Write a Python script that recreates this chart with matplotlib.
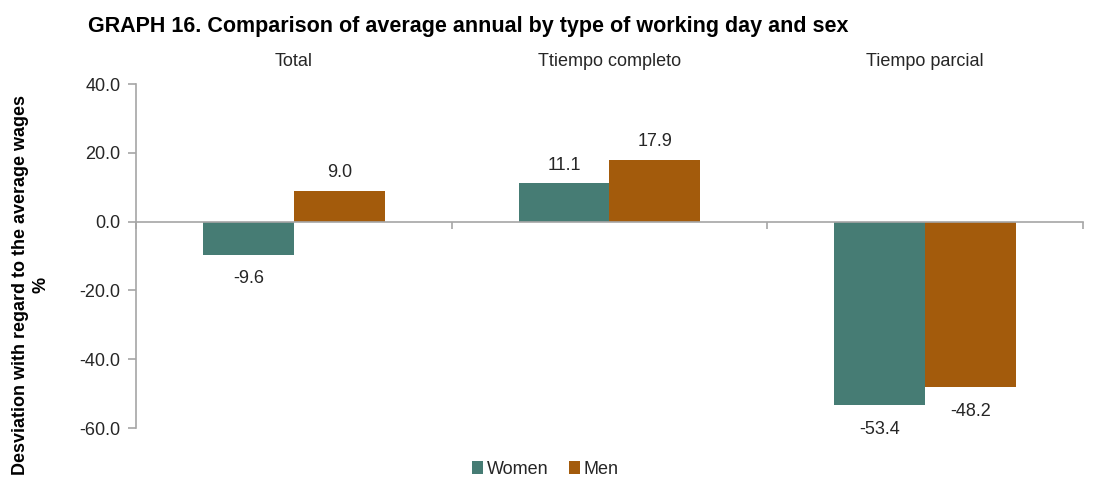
import matplotlib
matplotlib.use("Agg")
import matplotlib.pyplot as plt
import numpy as np

plt.rcParams['font.family'] = ['Liberation Sans', 'DejaVu Sans']

categories = ["Total", "Ttiempo completo", "Tiempo parcial"]
women = [-9.6, 11.1, -53.4]
men = [9.0, 17.9, -48.2]
series_names = ["Women", "Men"]
yticks = [40.0, 20.0, 0.0, -20.0, -40.0, -60.0]

c_women = "#467C74"
c_men = "#A35B0C"
grid_col = "#A6A6A6"
txt_col = "#262626"
fs = 13

fig = plt.figure(figsize=(10.95, 4.93), dpi=100)
ax = fig.add_axes([0.1242, 0.1318, 0.8648, 0.6978])

x = np.arange(len(categories))
w = 0.288
b1 = ax.bar(x - w / 2, women, w, color=c_women, label=series_names[0])
b2 = ax.bar(x + w / 2, men, w, color=c_men, label=series_names[1])

ax.set_xlim(-0.5, len(categories) - 0.5)
ax.set_ylim(-60, 40)
ax.set_yticks(yticks)
ax.set_yticklabels([f"{v:.1f}" for v in yticks], fontsize=fs, color=txt_col)

# zero line acts as the category axis
ax.spines['bottom'].set_position(('data', 0))
for s in ['top', 'right']:
    ax.spines[s].set_visible(False)
for s in ['left', 'bottom']:
    ax.spines[s].set_color(grid_col)
    ax.spines[s].set_linewidth(1.2)
ax.set_xticks(np.arange(-0.5, len(categories), 1.0))
ax.set_xticklabels([])
ax.tick_params(axis='x', direction='out', length=5, color=grid_col, width=1.2)
ax.tick_params(axis='y', direction='out', length=6, color=grid_col, width=1.2, pad=5)

# category names above the plot
for xi, name in zip(x, categories):
    ax.text(xi, 1.065, name, transform=ax.get_xaxis_transform(), ha='center', va='center',
            fontsize=fs, color=txt_col)

# value labels
for bars, vals in ((b1, women), (b2, men)):
    for rect, v in zip(bars, vals):
        cx = rect.get_x() + rect.get_width() / 2
        off = 5.3 if v >= 0 else -7.0
        ax.text(cx, v + off, f"{v:.1f}", ha='center', va='center', fontsize=fs, color=txt_col)

ax.set_ylabel("Desviation with regard to the average wages\n%", fontsize=13,
              fontweight='bold', color='black', linespacing=1.25, ha='center', va='center')
ax.yaxis.set_label_coords(-0.111, 0.415)

fig.text(0.080, 0.947, "GRAPH 16. Comparison of average annual by type of working day and sex",
         fontsize=15.5, fontweight='bold', color='black', ha='left', va='center')

leg = fig.legend(handles=[b1, b2], labels=series_names, loc='center', ncol=2,
                 bbox_to_anchor=(0.498, 0.048), frameon=False, fontsize=fs,
                 handlelength=0.65, handleheight=0.65, handletextpad=0.2, columnspacing=1.1)
for t in leg.get_texts():
    t.set_color(txt_col)

fig.savefig("out.png", dpi=100)
